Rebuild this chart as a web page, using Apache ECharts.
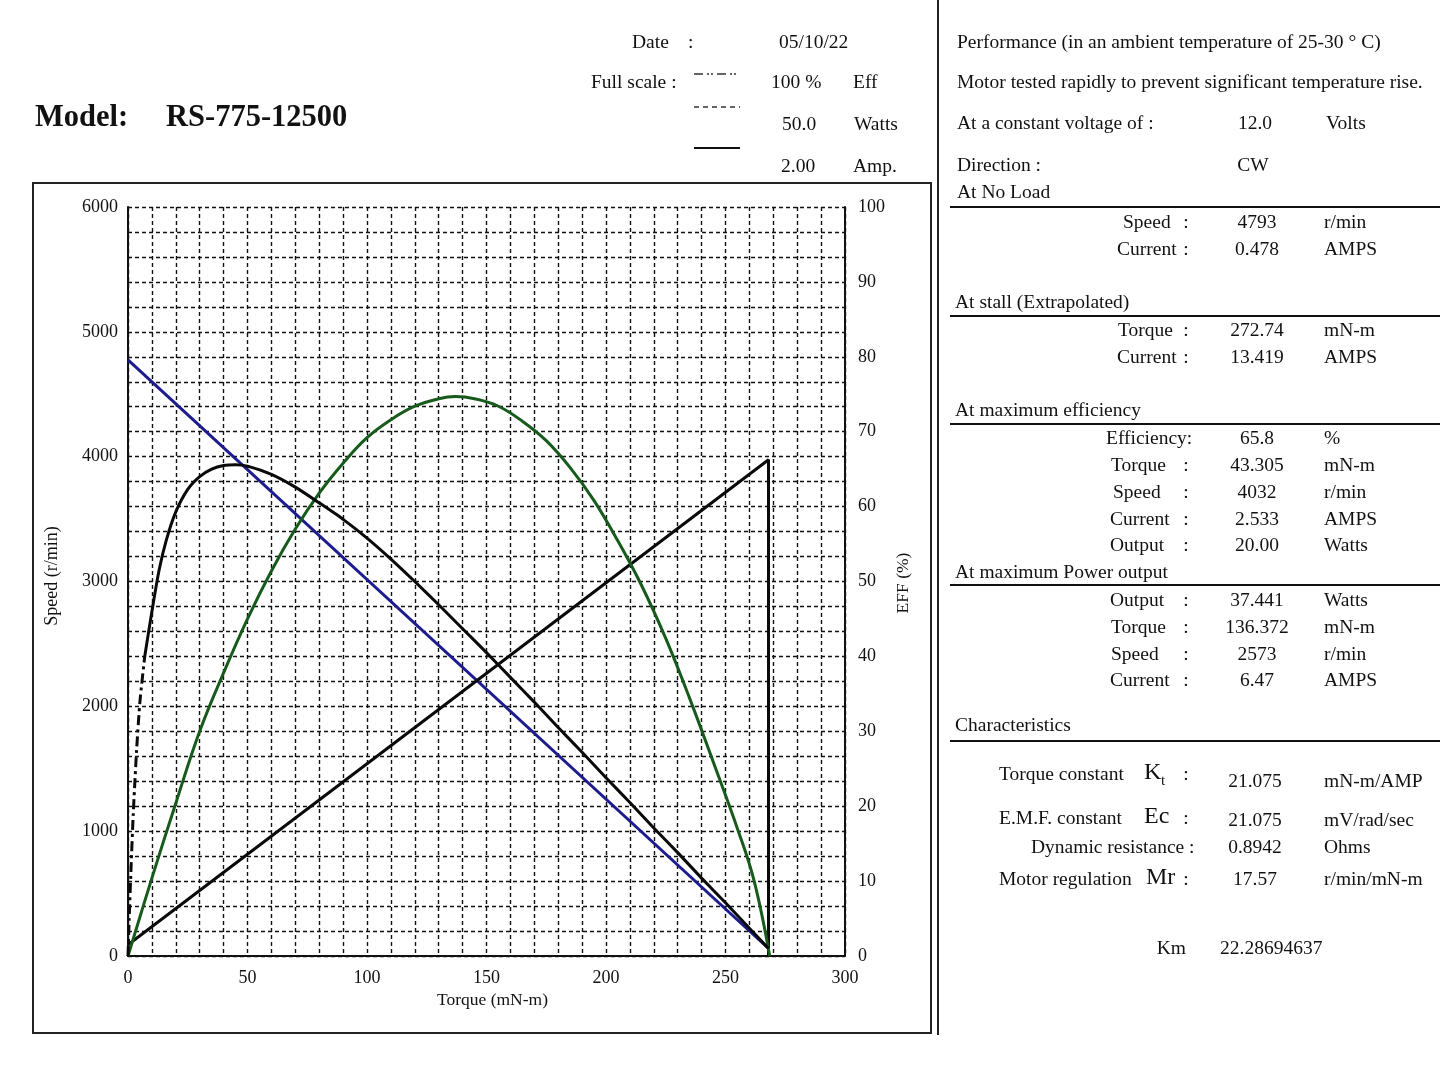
<!DOCTYPE html>
<html>
<head>
<meta charset="utf-8">
<title>RS-775-12500</title>
<script src="https://cdn.jsdelivr.net/npm/echarts@6/dist/echarts.min.js"></script>
<style>
  html, body { margin: 0; padding: 0; background: #fff; }
  #chart { width: 1448px; height: 1086px; }
</style>
</head>
<body>
<div id="chart"></div>
<script>
// values, [torque mN-m, value]
const speedPts = [[0, 4775], [268, 60]]                       // r/min
const currentPts = [[0, 0.3], [268, 13.25], [268, 0]]         // A (20 A full scale on plot)
const effStartPts = [[0, 0], [0.5, 5], [1.3, 12], [2.2, 19], [3.6, 27.5], [5, 34], [7, 40]]
const effPts = [[7, 40], [10, 46], [13, 51.5], [16, 55.5], [20, 59.3], [25, 62.3], [30, 64], [35, 65],
  [40, 65.5], [45, 65.6], [50, 65.4], [60, 64.3], [70, 62.6], [80, 60.5], [90, 58.3], [100, 55.8],
  [110, 53], [120, 50], [130, 46.9], [140, 43.7], [150, 40.5], [160, 37.2], [170, 33.9], [180, 30.5],
  [190, 27.2], [200, 23.8], [210, 20.5], [220, 17.1], [230, 13.8], [240, 10.4], [250, 7.1],
  [260, 3.7], [268, 1]]                                       // %
const powerPts = [[0, 0], [10, 5.2], [20, 10.2], [30, 15], [40, 18.9], [50, 22.5], [60, 25.7],
  [70, 28.5], [80, 30.9], [90, 32.9], [100, 34.6], [110, 35.8], [120, 36.7], [130, 37.2],
  [137, 37.35], [145, 37.2], [155, 36.7], [165, 35.7], [175, 34.4], [185, 32.6], [195, 30.4],
  [205, 27.7], [215, 24.7], [225, 21.2], [235, 17.2], [245, 12.9], [255, 8.5], [262, 5], [268.5, 0]] // W

// right hand table rows
const noLoadRows = [['Speed', '4793', 'r/min', 1123], ['Current', '0.478', 'AMPS', 1117]]
const stallRows = [['Torque', '272.74', 'mN-m', 1118], ['Current', '13.419', 'AMPS', 1117]]
const maxEffRows = [['Torque', '43.305', 'mN-m', 1111], ['Speed', '4032', 'r/min', 1113],
  ['Current', '2.533', 'AMPS', 1110], ['Output', '20.00', 'Watts', 1110]]
const maxPowerRows = [['Output', '37.441', 'Watts', 1110], ['Torque', '136.372', 'mN-m', 1111],
  ['Speed', '2573', 'r/min', 1111], ['Current', '6.47', 'AMPS', 1110]]

const FONT = '"Liberation Serif", "Times New Roman", serif'
const f = (size, bold) => (bold ? 'bold ' : '') + size + 'px ' + FONT

function txt(text, x, y, opts) {
  opts = opts || {}
  return {
    type: 'text', x: x, y: y, rotation: opts.rotation || 0, z: 10,
    style: {
      text: text, font: opts.font || f(19.5), fill: '#111',
      align: opts.align || 'left', verticalAlign: 'middle'
    }
  }
}
function hline(x1, x2, y, w) {
  return { type: 'line', z: 10, shape: { x1: x1, y1: y, x2: x2, y2: y }, style: { stroke: '#111', lineWidth: w || 2 } }
}

const g = []
// header
g.push(txt('Model:', 35, 118, { font: f(30.5, true) }))
g.push(txt('RS-775-12500', 166, 118, { font: f(30.5, true) }))
g.push(txt('Date', 632, 43), txt(':', 688, 43), txt('05/10/22', 779, 43))
g.push(txt('Full scale :', 591, 83), txt('100 %', 771, 83), txt('Eff', 853, 83))
g.push(txt('50.0', 782, 125), txt('Watts', 854, 125))
g.push(txt('2.00', 781, 167), txt('Amp.', 853, 167))
g.push({ type: 'line', z: 10, shape: { x1: 694, y1: 74, x2: 740, y2: 74 }, style: { stroke: '#333', lineWidth: 1.5, lineDash: [9, 4, 2, 2, 2, 4] } })
g.push({ type: 'line', z: 10, shape: { x1: 694, y1: 107, x2: 740, y2: 107 }, style: { stroke: '#333', lineWidth: 1.5, lineDash: [5, 4] } })
g.push({ type: 'line', z: 10, shape: { x1: 694, y1: 148, x2: 740, y2: 148 }, style: { stroke: '#111', lineWidth: 2 } })

// chart frame and separator
g.push({ type: 'rect', z: 10, shape: { x: 33, y: 183, width: 898, height: 850 }, style: { fill: 'none', stroke: '#222', lineWidth: 2 } })
g.push({ type: 'line', z: 10, shape: { x1: 938, y1: 0, x2: 938, y2: 1035 }, style: { stroke: '#222', lineWidth: 2 } })

// axis names on the sides
g.push(txt('Speed (r/min)', 52, 576, { align: 'center', rotation: Math.PI / 2, font: f(18) }))
g.push(txt('EFF (%)', 903, 583, { align: 'center', rotation: Math.PI / 2, font: f(17.5) }))

// right table
g.push(txt('Performance (in an ambient temperature of 25-30 ° C)', 957, 43))
g.push(txt('Motor tested rapidly to prevent significant temperature rise.', 957, 83))
g.push(txt('At a constant voltage of :', 957, 124), txt('12.0', 1255, 124, { align: 'center' }), txt('Volts', 1326, 124))
g.push(txt('Direction :', 957, 166), txt('CW', 1253, 166, { align: 'center' }))
g.push(txt('At No Load', 957, 193), hline(950, 1440, 207))
g.push(txt('At stall (Extrapolated)', 955, 303), hline(950, 1440, 316))
g.push(txt('At maximum efficiency', 955, 411), hline(950, 1440, 424))
g.push(txt('At maximum Power output', 955, 573), hline(950, 1440, 585))
g.push(txt('Characteristics', 955, 726), hline(950, 1440, 741))

function rows(list, y0, step) {
  list.forEach((r, i) => {
    const y = y0 + i * step
    g.push(txt(r[0], r[3], y), txt(':', 1186, y, { align: 'center' }),
      txt(r[1], 1257, y, { align: 'center' }), txt(r[2], 1324, y))
  })
}
rows(noLoadRows, 223, 26.5)
rows(stallRows, 331, 27)
g.push(txt('Efficiency:', 1106, 439), txt('65.8', 1257, 439, { align: 'center' }), txt('%', 1324, 439))
rows(maxEffRows, 466, 26.7)
rows(maxPowerRows, 601, 26.7)

g.push(txt('Torque constant', 999, 775), txt('K', 1144, 773, { font: f(24) }), txt('t', 1161, 781, { font: f(15) }),
  txt(':', 1186, 775, { align: 'center' }), txt('21.075', 1255, 782, { align: 'center' }), txt('mN-m/AMP', 1324, 782))
g.push(txt('E.M.F. constant', 999, 819), txt('Ec', 1144, 817, { font: f(24) }),
  txt(':', 1186, 819, { align: 'center' }), txt('21.075', 1255, 821, { align: 'center' }), txt('mV/rad/sec', 1324, 821))
g.push(txt('Dynamic resistance :', 1031, 848), txt('0.8942', 1255, 848, { align: 'center' }), txt('Ohms', 1324, 848))
g.push(txt('Motor regulation', 999, 880), txt('Mr', 1146, 878, { font: f(24) }),
  txt(':', 1186, 880, { align: 'center' }), txt('17.57', 1255, 880, { align: 'center' }), txt('r/min/mN-m', 1324, 880))
g.push(txt('Km', 1186, 949, { align: 'right' }), txt('22.28694637', 1220, 949))

const gridDash = { color: '#111', width: 1.4, type: [4, 3] }
const axisText = { color: '#111', fontSize: 18, fontFamily: FONT }

const myChart = echarts.init(document.getElementById('chart'))
const option = {
  backgroundColor: '#fff',
  animation: false,
  grid: { left: 128, right: 603, top: 207, bottom: 130 },
  xAxis: {
    type: 'value', min: 0, max: 300, interval: 10,
    name: 'Torque (mN-m)', nameLocation: 'middle', nameGap: 30,
    nameTextStyle: { color: '#111', fontSize: 17.5, fontFamily: FONT, padding: [0, 0, 0, 12] },
    axisLine: { show: true, lineStyle: { color: '#111', width: 2 } },
    axisTick: { show: false },
    axisLabel: Object.assign({ margin: 13, formatter: v => (v % 50 === 0 ? v : '') }, axisText),
    splitLine: { show: true, lineStyle: gridDash }
  },
  yAxis: [
    {
      type: 'value', min: 0, max: 6000, interval: 200, position: 'left',
      axisLine: { show: true, lineStyle: { color: '#111', width: 2 } },
      axisTick: { show: false },
      axisLabel: Object.assign({ margin: 10, formatter: v => (v % 1000 === 0 ? v : '') }, axisText),
      splitLine: { show: true, lineStyle: gridDash }
    },
    {
      type: 'value', min: 0, max: 100, interval: 10, position: 'right',
      axisLine: { show: true, lineStyle: { color: '#111', width: 2 } },
      axisTick: { show: false },
      axisLabel: Object.assign({ margin: 13 }, axisText),
      splitLine: { show: false }
    },
    { type: 'value', min: 0, max: 50, show: false },   // watts
    { type: 'value', min: 0, max: 20, show: false }    // amps
  ],
  graphic: { elements: g },
  series: [
    {
      name: 'Speed', type: 'line', yAxisIndex: 0, data: speedPts, symbol: 'none',
      lineStyle: { color: '#1c1c8e', width: 3 }
    },
    {
      name: 'Current', type: 'line', yAxisIndex: 3, data: currentPts, symbol: 'none',
      lineStyle: { color: '#0a0a0a', width: 3 }
    },
    {
      name: 'Output', type: 'line', yAxisIndex: 2, data: powerPts, symbol: 'none', smooth: 0.4,
      lineStyle: { color: '#165a1c', width: 3 }
    },
    {
      name: 'Eff start', type: 'line', yAxisIndex: 1, data: effStartPts, symbol: 'none', smooth: 0.2,
      lineStyle: { color: '#0a0a0a', width: 3, type: [10, 4, 3, 4] }
    },
    {
      name: 'Efficiency', type: 'line', yAxisIndex: 1, data: effPts, symbol: 'none', smooth: 0.25,
      lineStyle: { color: '#0a0a0a', width: 3 }
    }
  ]
}
myChart.setOption(option)
window.addEventListener('resize', () => {
  if (myChart) {
    myChart.resize()
  }
})
</script>
</body>
</html>
